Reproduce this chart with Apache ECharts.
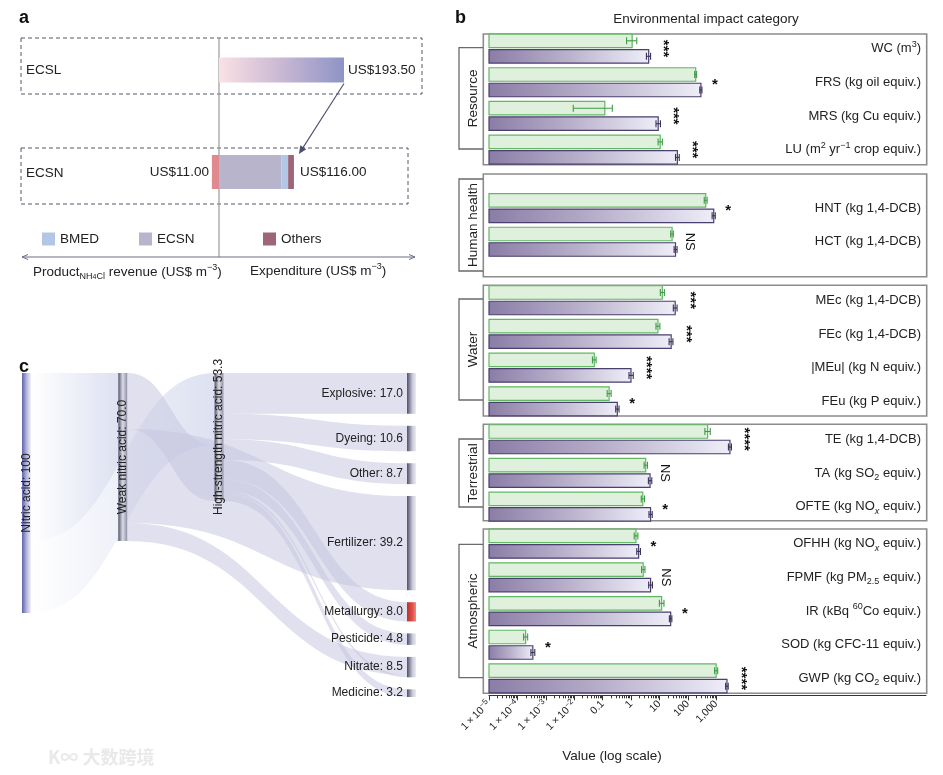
<!DOCTYPE html>
<html><head><meta charset="utf-8">
<script src="https://cdn.jsdelivr.net/npm/echarts@6/dist/echarts.min.js"></script>
<style>html,body{margin:0;padding:0;background:#fff}#c{width:943px;height:775px}</style>
</head><body><div id="c"></div>
<script>
// ================= DATA =================
// ---- panel a ----
const ECSL_COST = 193.5;                 // US$ m-3
const ECSN_REVENUE = 11.0;               // US$ m-3 (product NH4Cl revenue)
const ECSN_PART_NAMES = ['ECSN', 'BMED', 'Others'];
const ECSN_PARTS = [96.5, 10.5, 9.0];     // sum = 116.00

// ---- panel b ----
const GROUP_NAMES = ['Resource', 'Human health', 'Water', 'Terrestrial', 'Atmospheric'];
const GROUP_SIZES = [4, 2, 4, 3, 5];
const CATEGORIES = [
  'WC (m{sup|3})', 'FRS (kg oil equiv.)', 'MRS (kg Cu equiv.)', 'LU (m{sup|2} yr{sup|−1} crop equiv.)',
  'HNT (kg 1,4-DCB)', 'HCT (kg 1,4-DCB)',
  'MEc (kg 1,4-DCB)', 'FEc (kg 1,4-DCB)', '|MEu| (kg N equiv.)', 'FEu (kg P equiv.)',
  'TE (kg 1,4-DCB)', 'TA (kg SO{sub|2} equiv.)', 'OFTE (kg NO{subi|x} equiv.)',
  'OFHH (kg NO{subi|x} equiv.)', 'FPMF (kg PM{sub|2.5} equiv.)', 'IR (kBq {sup|60}Co equiv.)', 'SOD (kg CFC-11 equiv.)', 'GWP (kg CO{sub|2} equiv.)'
];
const GREEN    = [1.1, 190, 0.12, 10.7,   430, 28,   12.7, 8.9, 0.051, 0.17,   500, 3.3, 2.6,   1.5, 2.7, 12, 1.95e-4, 1000];
const GREEN_LO = [0.70, 175, 0.0093, 9.0, 380, 25,   10.8, 7.6, 0.044, 0.145,  400, 2.9, 2.3,   1.3, 2.35, 10, 1.65e-4, 880];
const GREEN_HI = [1.6, 205, 0.22, 12.7,   480, 31,   15, 10.4, 0.059, 0.20,    620, 3.8, 3.0,   1.75, 3.1, 14.5, 2.3e-4, 1130];
const PURPLE    = [4.2, 290, 9.1, 43,     820, 37,   36, 26, 1.0, 0.33,        3060, 4.7, 4.9,  1.86, 4.9, 25, 3.5e-4, 2400];
const PURPLE_LO = [3.5, 265, 7.6, 37,     720, 33,   31, 22, 0.85, 0.29,       2700, 4.1, 4.3,  1.6, 4.2, 22.5, 3.0e-4, 2150];
const PURPLE_HI = [4.9, 315, 10.9, 50,    930, 42,   42, 30, 1.2, 0.38,        3450, 5.4, 5.6,  2.15, 5.7, 27.5, 4.1e-4, 2650];
const SIGNIF = ['***', '*', '***', '***', '*', 'NS', '***', '***', '****', '*', '****', 'NS', '*', '*', 'NS', '*', '*', '****'];
const AXIS_MIN = 1e-5, AXIS_MAX = 2.45e10;
const MAJOR_TICKS = [1e-5, 1e-4, 1e-3, 1e-2, 0.1, 1, 10, 100, 1000];
const MAJOR_TICK_LABELS = ['1\u2009×\u200910{sup|−5}', '1\u2009×\u200910{sup|−4}', '1\u2009×\u200910{sup|−3}', '1\u2009×\u200910{sup|−2}', '0.1', '1', '10', '100', '1,000'];
const MINOR_MULTIPLIERS = [2, 3, 4, 5, 6, 7, 8, 9];

// ---- panel c (sankey) ----
const NODE_NAMES = ['Nitric acid', 'Weak nitric acid', 'High-strength nitric acid', 'Explosive', 'Dyeing', 'Other', 'Fertilizer', 'Metallurgy', 'Pesticide', 'Nitrate', 'Medicine'];
const NODE_DEPTH = [0, 1, 2, 4, 4, 4, 4, 4, 4, 4, 4];
const LINK_SOURCE = ['Nitric acid', 'Nitric acid', 'Weak nitric acid', 'Weak nitric acid', 'Weak nitric acid',
  'High-strength nitric acid', 'High-strength nitric acid', 'High-strength nitric acid', 'High-strength nitric acid',
  'High-strength nitric acid', 'High-strength nitric acid', 'High-strength nitric acid'];
const LINK_TARGET = ['Weak nitric acid', 'High-strength nitric acid', 'High-strength nitric acid', 'Fertilizer', 'Nitrate',
  'Explosive', 'Dyeing', 'Other', 'Metallurgy', 'Pesticide', 'Nitrate', 'Medicine'];
const LINK_VALUE = [70, 30, 23.3, 39.2, 7.5, 17.0, 10.6, 8.7, 8.0, 4.8, 1.0, 3.2];

// ================= CHART =================
const FONT = '"Liberation Sans", Arial, sans-serif';
const TXT = '#222';
const chart = echarts.init(document.getElementById('c'));

const lin = (stops, x2 = 1, y2 = 0) => ({type: 'linear', x: 0, y: 0, x2: x2, y2: y2,
  colorStops: stops.map(s => ({offset: s[0], color: s[1]}))});

const PART_COLORS = ['#b7b4cc', '#b2c6e5', '#9c6676'];
const expTotal = ECSN_PARTS.reduce((a, b) => a + b, 0);

const richSS = {
  sup: {fontSize: 9, verticalAlign: 'top', fontFamily: FONT, color: TXT},
  sub: {fontSize: 9, verticalAlign: 'bottom', fontFamily: FONT, color: TXT},
  subi: {fontSize: 9, verticalAlign: 'bottom', fontStyle: 'italic', fontFamily: FONT, color: TXT}
};
const richTick = {
  sup: {fontSize: 8, verticalAlign: 'top', fontFamily: FONT, color: TXT}
};

// ---- grids ----
const grids = [
  {left: 25.2, width: 387.6, top: 50, height: 40},
  {left: 25.2, width: 387.6, top: 152, height: 40}
];
const B_TOPS = [31.7, 191.2, 283.4, 422.4, 526.8];
const STEP = 33.7;
const B_LEFT = 489, B_WIDTH = 437;
GROUP_SIZES.forEach((n, g) => grids.push({left: B_LEFT, width: B_WIDTH, top: B_TOPS[g], height: n * STEP}));

const xAxes = [
  {gridIndex: 0, type: 'value', min: -300, max: 300, show: false},
  {gridIndex: 1, type: 'value', min: -300, max: 300, show: false}
];
const yAxes = [
  {gridIndex: 0, type: 'category', data: ['ECSL'], show: false},
  {gridIndex: 1, type: 'category', data: ['ECSN'], show: false}
];
const minorTicks = [];
MAJOR_TICKS.slice(0, -1).forEach(d => MINOR_MULTIPLIERS.forEach(m => minorTicks.push(d * m)));

let start = 0;
const bSeries = [];
GROUP_SIZES.forEach((n, g) => {
  const isLast = g === GROUP_SIZES.length - 1;
  xAxes.push({
    gridIndex: 2 + g, type: 'log', logBase: 10, min: AXIS_MIN, max: AXIS_MAX,
    show: isLast, position: 'bottom',
    axisLine: {show: true, lineStyle: {color: '#333', width: 1.2}},
    axisTick: {show: true, length: 5, customValues: MAJOR_TICKS, lineStyle: {color: '#333'}},
    axisLabel: {
      show: true, customValues: MAJOR_TICKS, rotate: 45, margin: 7, fontSize: 10.5, color: TXT, fontFamily: FONT,
      lineHeight: 14,
      formatter: v => MAJOR_TICK_LABELS[Math.round(Math.log10(v)) + 5], rich: richTick
    },
    splitLine: {show: false}
  });
  const cats = CATEGORIES.slice(start, start + n);
  yAxes.push({
    gridIndex: 2 + g, type: 'category', data: cats, inverse: true, position: 'right',
    axisLine: {show: false}, axisTick: {show: false}, splitLine: {show: false},
    axisLabel: {inside: true, margin: 5, fontSize: 13, color: TXT, fontFamily: FONT, lineHeight: 18, rich: richSS}
  });
  const rows = [];
  for (let k = 0; k < n; k++) {
    const i = start + k;
    rows.push([k, GREEN[i], GREEN_LO[i], GREEN_HI[i], PURPLE[i], PURPLE_LO[i], PURPLE_HI[i]]);
  }
  const off = start;
  bSeries.push({
    type: 'custom', name: GROUP_NAMES[g], xAxisIndex: 2 + g, yAxisIndex: 2 + g,
    data: rows, encode: {x: [1, 2, 3, 4, 5, 6], y: 0}, clip: false, silent: true,
    renderItem: (params, api) => {
      const k = api.value(0);
      const cy = api.coord([1, k])[1];
      const xs = v => api.coord([v, k])[0];
      const x0 = xs(AXIS_MIN);
      const bw = 13.5, gap = 2;
      const gy = cy - gap / 2 - bw, py = cy + gap / 2;
      const gv = api.value(1), gl = api.value(2), gh = api.value(3);
      const pv = api.value(4), pl = api.value(5), ph = api.value(6);
      const ch = [];
      ch.push({type: 'rect', shape: {x: x0, y: gy, width: xs(gv) - x0, height: bw},
        style: {fill: '#dff0dc', stroke: '#62b764', lineWidth: 1.2}});
      ch.push({type: 'rect', shape: {x: x0, y: py, width: xs(pv) - x0, height: bw},
        style: {fill: new echarts.graphic.LinearGradient(0, 0, 1, 0, [
          {offset: 0, color: '#8a7da6'}, {offset: 0.45, color: '#b5acc8'}, {offset: 1, color: '#eeeef8'}]),
          stroke: '#4a3f6e', lineWidth: 1.2}});
      const err = (lo, hi, yc, col) => {
        const a = xs(lo), b = xs(hi);
        ch.push({type: 'line', shape: {x1: a, y1: yc, x2: b, y2: yc}, style: {stroke: col, lineWidth: 1.1}});
        ch.push({type: 'line', shape: {x1: a, y1: yc - 3.5, x2: a, y2: yc + 3.5}, style: {stroke: col, lineWidth: 1.1}});
        ch.push({type: 'line', shape: {x1: b, y1: yc - 3.5, x2: b, y2: yc + 3.5}, style: {stroke: col, lineWidth: 1.1}});
      };
      err(gl, gh, gy + bw / 2, '#3f9a47');
      err(pl, ph, py + bw / 2, '#3a3055');
      const s = SIGNIF[off + k];
      const sx = xs(Math.max(gh, ph)) + 13;
      const isNS = s === 'NS';
      ch.push({type: 'text', x: sx, y: s.length > 1 ? cy : cy + 3,
        rotation: s.length > 1 ? -Math.PI / 2 : 0,
        style: {text: s, fontSize: isNS ? 13 : 15, fontWeight: isNS ? 'normal' : 'bold', fill: '#111', fontFamily: FONT,
          align: 'center', verticalAlign: 'middle'}});
      return {type: 'group', children: ch};
    }
  });
  start += n;
});
// minor ticks axis on bottom grid
xAxes.push({
  gridIndex: 2 + GROUP_SIZES.length - 1, type: 'log', logBase: 10, min: AXIS_MIN, max: AXIS_MAX, position: 'bottom',
  axisLine: {show: false}, axisLabel: {show: false}, splitLine: {show: false},
  axisTick: {show: true, length: 3, customValues: minorTicks, lineStyle: {color: '#333'}}
});

// ---- panel a series ----
const aSeries = [
  {name: 'ECSL', type: 'bar', xAxisIndex: 0, yAxisIndex: 0, data: [ECSL_COST], barWidth: 25, silent: true,
    itemStyle: {color: lin([[0, '#fbe1e6'], [0.5, '#c9b8d3'], [1, '#8d94c6']])},
    label: {show: true, position: 'right', distance: 4, fontSize: 13.5, color: TXT, fontFamily: FONT,
      formatter: p => 'US$' + p.value.toFixed(2)}},
  {name: 'Revenue', type: 'bar', xAxisIndex: 1, yAxisIndex: 1, stack: 'ecsn', data: [-ECSN_REVENUE], barWidth: 34, silent: true,
    itemStyle: {color: '#df8a8f'},
    label: {show: true, position: 'left', distance: 3, fontSize: 13.5, color: TXT, fontFamily: FONT,
      formatter: p => 'US$' + Math.abs(p.value).toFixed(2)}}
];
ECSN_PART_NAMES.forEach((nm, k) => aSeries.push({
  name: nm, type: 'bar', xAxisIndex: 1, yAxisIndex: 1, stack: 'ecsn', data: [ECSN_PARTS[k]], barWidth: 34, silent: true,
  itemStyle: {color: PART_COLORS[k]},
  label: k === ECSN_PART_NAMES.length - 1 ?
    {show: true, position: 'right', distance: 6, fontSize: 13.5, color: TXT, fontFamily: FONT, formatter: () => 'US$' + expTotal.toFixed(2)} :
    {show: false}
}));

// ---- sankey ----
const nodeColor = name => {
  if (name === 'Nitric acid') return lin([[0, '#5f63ad'], [0.55, '#b9bbdc'], [1, '#f1f1f7']]);
  if (name === 'Metallurgy') return lin([[0, '#c0302b'], [0.6, '#e0524a'], [1, '#f08a80']]);
  if (name === 'Weak nitric acid' || name === 'High-strength nitric acid') return lin([[0, '#55566f'], [0.5, '#dcdce6'], [1, '#8e8ea6']]);
  return lin([[0, '#4f4f6c'], [0.6, '#c8c8d8'], [1, '#ececf3']]);
};
const sankeyNodes = NODE_NAMES.map((nm, i) => ({
  name: nm, depth: NODE_DEPTH[i], itemStyle: {color: nodeColor(nm), borderWidth: 0},
  label: NODE_DEPTH[i] < 3 ?
    {position: 'inside', rotate: 90, fontSize: 12, color: '#222', fontFamily: FONT} :
    {position: 'left', distance: 4, fontSize: 12, color: '#222', fontFamily: FONT}
}));
const sankeyLinks = LINK_SOURCE.map((s, i) => ({
  source: s, target: LINK_TARGET[i], value: LINK_VALUE[i],
  lineStyle: s === 'Nitric acid' ? {color: lin([[0, '#ffffff'], [1, '#dde1f1']]), opacity: 1} : {color: '#c6c6e0', opacity: 0.55}
}));
const sankeySeries = {
  type: 'sankey', left: 22, top: 373, width: 394, height: 324,
  nodeWidth: 9, nodeGap: 12, nodeAlign: 'left', draggable: false, silent: true,
  layoutIterations: 0,
  emphasis: {disabled: true},
  data: sankeyNodes, links: sankeyLinks,
  lineStyle: {curveness: 0.5},
  label: {formatter: p => p.name + ': ' + (p.value >= 99.95 ? Math.round(p.value).toString() : p.value.toFixed(1))}
};

chart.setOption({
  animation: false,
  textStyle: {fontFamily: FONT},
  grid: grids, xAxis: xAxes, yAxis: yAxes,
  legend: [
    {data: ['BMED'], left: 37, top: 227, icon: 'rect', itemWidth: 13, itemHeight: 13, selectedMode: false, textStyle: {fontSize: 13.5, color: TXT, fontFamily: FONT}},
    {data: ['ECSN'], left: 134, top: 227, icon: 'rect', itemWidth: 13, itemHeight: 13, selectedMode: false, textStyle: {fontSize: 13.5, color: TXT, fontFamily: FONT}},
    {data: ['Others'], left: 258, top: 227, icon: 'rect', itemWidth: 13, itemHeight: 13, selectedMode: false, textStyle: {fontSize: 13.5, color: TXT, fontFamily: FONT}}
  ],
  series: aSeries.concat(bSeries, [sankeySeries])
});

// ================= DECORATIONS =================
const x0 = chart.convertToPixel({xAxisIndex: 0}, 0);
const xE = chart.convertToPixel({xAxisIndex: 0}, ECSL_COST);
const xN = chart.convertToPixel({xAxisIndex: 1}, expTotal);
const yE = chart.convertToPixel({yAxisIndex: 0}, 'ECSL');
const yN = chart.convertToPixel({yAxisIndex: 1}, 'ECSN');
const ax1 = xE, ay1 = yE + 13.5, ax2 = xN + 5, ay2 = yN - 18;
const ang = Math.atan2(ay2 - ay1, ax2 - ax1);
const ah = 8, aw = 3.5;
const arrowHead = [[ax2, ay2],
  [ax2 - ah * Math.cos(ang) + aw * Math.sin(ang), ay2 - ah * Math.sin(ang) - aw * Math.cos(ang)],
  [ax2 - ah * Math.cos(ang) - aw * Math.sin(ang), ay2 - ah * Math.sin(ang) + aw * Math.cos(ang)]];

const T = (x, y, text, o = {}) => ({type: 'text', x: x, y: y, rotation: o.rot || 0, silent: true, z: 10,
  style: Object.assign({text: text, fontSize: 13.5, fill: TXT, fontFamily: FONT, align: 'left', verticalAlign: 'middle'}, o.style || {})});
const L = (x1, y1, x2, y2, st) => ({type: 'line', silent: true, shape: {x1, y1, x2, y2}, style: Object.assign({stroke: '#666', lineWidth: 1}, st || {})});

const g = [];
// panel letters
g.push(T(19, 18, 'a', {style: {fontSize: 18, fontWeight: 'bold', fill: '#111'}}));
g.push(T(455, 18, 'b', {style: {fontSize: 18, fontWeight: 'bold', fill: '#111'}}));
g.push(T(19, 367, 'c', {style: {fontSize: 18, fontWeight: 'bold', fill: '#111'}}));
// panel a
g.push({type: 'rect', silent: true, shape: {x: 21, y: 38, width: 401, height: 56}, style: {fill: 'none', stroke: '#55576a', lineWidth: 1, lineDash: [4, 3]}});
g.push({type: 'rect', silent: true, shape: {x: 21, y: 148, width: 387, height: 56}, style: {fill: 'none', stroke: '#55576a', lineWidth: 1, lineDash: [4, 3]}});
g.push(T(26, 70, 'ECSL'));
g.push(T(26, 173, 'ECSN'));
g.push(L(x0, 38, x0, 257, {stroke: '#9a9a9a', lineWidth: 1.2}));
g.push(L(ax1, ay1, ax2 - 4 * Math.cos(ang), ay2 - 4 * Math.sin(ang), {stroke: '#4b4f6e', lineWidth: 1.1}));
g.push({type: 'polygon', silent: true, shape: {points: arrowHead}, style: {fill: '#4b4f6e'}});
g.push(L(22, 257, 415, 257, {stroke: '#6b6f88', lineWidth: 1}));
g.push({type: 'polyline', silent: true, shape: {points: [[28, 254.5], [22, 257], [28, 259.5]]}, style: {stroke: '#6b6f88', lineWidth: 1, fill: 'none'}});
g.push({type: 'polyline', silent: true, shape: {points: [[409, 254.5], [415, 257], [409, 259.5]]}, style: {stroke: '#6b6f88', lineWidth: 1, fill: 'none'}});
g.push(T(33, 272, 'Product{sub|NH}{sub2|4}{sub|Cl} revenue (US$ m{sup|−3})', {style: {rich: {
  sub: {fontSize: 9, verticalAlign: 'bottom', fontFamily: FONT, fill: TXT},
  sub2: {fontSize: 7, verticalAlign: 'bottom', fontFamily: FONT, fill: TXT},
  sup: {fontSize: 9, verticalAlign: 'top', fontFamily: FONT, fill: TXT}}, lineHeight: 18}}));
g.push(T(250, 271, 'Expenditure (US$ m{sup|−3})', {style: {rich: {sup: {fontSize: 9, verticalAlign: 'top', fontFamily: FONT, fill: TXT}}, lineHeight: 18}}));
// panel b
g.push(T(706, 19, 'Environmental impact category', {style: {align: 'center', fontSize: 13.5}}));
const BOXES = [[34, 164.7], [174, 276.7], [285.3, 416], [424.3, 520.7], [529, 693.3]];
const BRACKETS = [[47.7, 149], [179, 271], [299, 400], [439, 507], [544.3, 677.7]];
BOXES.forEach(b => g.push({type: 'rect', silent: true, z: -1, shape: {x: 483.3, y: b[0], width: 443.4, height: b[1] - b[0]}, style: {fill: 'none', stroke: '#8c8c8c', lineWidth: 1.6}}));
BRACKETS.forEach((b, i) => {
  g.push({type: 'polyline', silent: true, shape: {points: [[483, b[0]], [459, b[0]], [459, b[1]], [483, b[1]]]}, style: {fill: 'none', stroke: '#6a6a6a', lineWidth: 1.3}});
  g.push(T(473, (b[0] + b[1]) / 2, GROUP_NAMES[i], {rot: Math.PI / 2, style: {align: 'center', fontSize: 13.5, backgroundColor: '#fff'}}));
});
g.push(T(612, 756, 'Value (log scale)', {style: {align: 'center', fontSize: 13.5}}));
// watermark
g.push(T(48, 757, 'K∞ 大数跨境', {style: {fontSize: 18, fill: '#e9e9e9', fontFamily: '"Noto Sans CJK SC", sans-serif', fontWeight: 'bold'}}));

chart.setOption({graphic: g});
</script>
</body></html>
